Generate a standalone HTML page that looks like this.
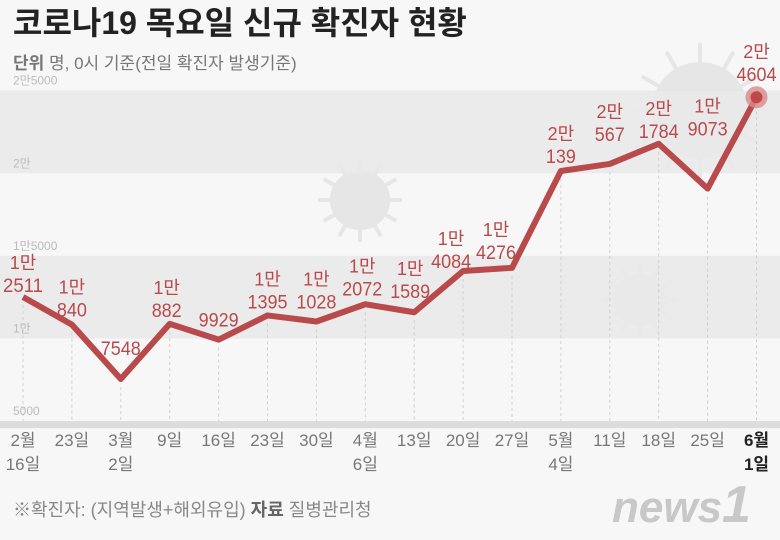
<!DOCTYPE html>
<html><head><meta charset="utf-8"><style>
body{margin:0;background:#f7f7f7;}
svg{display:block;font-family:"Liberation Sans","Noto Sans CJK KR",sans-serif;}
</style></head><body>
<svg id="c" width="780" height="540">
<rect width="780" height="540" fill="#f7f7f7"/>
<g id="deco"></g>
<g id="bands"></g><g id="grid"></g><g id="ylab"></g>
<path id="line" fill="none" stroke="#b94a4c" stroke-width="6" stroke-linejoin="round"/>
<g id="marks"></g><g id="xlab"></g>
<text x="13" y="34" font-size="32" font-weight="bold" fill="#222">코로나19 목요일 신규 확진자 현황</text>
<text x="13" y="69" font-size="17" fill="#777"><tspan font-weight="bold">단위</tspan>  명, 0시 기준(전일 확진자 발생기준)</text>
<text x="13" y="516" font-size="18" fill="#888">※확진자: (지역발생+해외유입)  <tspan font-weight="bold" fill="#666">자료</tspan>  질병관리청</text>
<text x="612" y="522" font-size="44" font-weight="bold" font-style="italic" fill="#c8c8c8">news<tspan font-size="52">1</tspan></text>
</svg>
<script>
const categories=["2월|16일","23일","3월|2일","9일","16일","23일","30일","4월|6일","13일","20일","27일","5월|4일","11일","18일","25일","6월|1일"];
const values=[12511,10840,7548,10882,9929,11395,11028,12072,11589,14084,14276,20139,20567,21784,19073,24604];
const yTicks=[5000,10000,15000,20000,25000];
const yTickLabels=["5000","1만","1만5000","2만","2만5000"];
const labelOffsets=[12,15,31,14,20,14,20,16,21,10,16,15,30,13,60,23];
const labelShifts=[0,0,0,-3,0,0,0,-3,-4,-12,-16,0,0,0,0,0];
const NS="http://www.w3.org/2000/svg";
function X(i){return 23+i*48.9;}
function Y(v){return 297-(v-12511)*0.01652;}
function mk(tag,attrs,parent){const e=document.createElementNS(NS,tag);for(const k in attrs)e.setAttribute(k,attrs[k]);document.getElementById(parent).appendChild(e);return e;}
[[700,110,48],[360,200,30],[640,300,26]].forEach(function(c){
  for(let a=0;a<12;a++){const t=a*Math.PI/6;const l=mk('line',{x1:c[0],y1:c[1],x2:c[0]+Math.cos(t)*c[2]*1.4,y2:c[1]+Math.sin(t)*c[2]*1.4,stroke:'#e6e6e6','stroke-width':4},'deco');
  
  }
  const ci=mk('circle',{cx:c[0],cy:c[1],r:c[2],fill:'#e6e6e6'},'deco');
  
  
});
[[20000,25000],[10000,15000]].forEach(function(b){
  const r=mk('rect',{x:0,y:Y(b[1]),width:780,height:Y(b[0])-Y(b[1]),fill:'#e9e9e9',opacity:0.85},'bands');
  
  
});
const ax=mk('rect',{x:0,y:Y(5000),width:780,height:7,fill:'#dcdcdc'},'bands');


yTicks.forEach(function(v,i){
  const t=mk('text',{x:13,y:Y(v)-6,'font-size':12,fill:'#bbb'},'ylab');t.textContent=yTickLabels[i];
  
  
});
let d="";
values.forEach(function(v,i){
  const x=X(i),y=Y(v);d+=(i?"L":"M")+x+" "+y;
  const g=mk('line',{x1:x,y1:y+8,x2:x,y2:Y(5000),stroke:'#d0d0d0','stroke-dasharray':'3 3'},'grid');
  
  
  const last=i===values.length-1;
  const parts=categories[i].split("|");
  parts.forEach(function(p,k){
    const t=mk('text',{x:x,y:446+k*24,'text-anchor':'middle','font-size':17,fill:last?'#222':'#777','font-weight':last?'bold':'normal'},'xlab');t.textContent=p;
    
    
  });
  const man=Math.floor(v/10000),rest=v%10000;
  const cy=y-labelOffsets[i];
  const lx=x+labelShifts[i];
  const s=String(rest);
  const t2=mk('text',{x:lx,y:cy+7,'text-anchor':'middle','font-size':19,fill:'#b94a4c',textLength:s.length*10,lengthAdjust:'spacingAndGlyphs'},'marks');t2.textContent=s;
  
  
  if(man>0){const t1=mk('text',{x:lx,y:cy-16,'text-anchor':'middle','font-size':18,fill:'#b94a4c'},'marks');t1.textContent=man+"만";
  
  }
  if(last){
    const c1=mk('circle',{cx:x,cy:y,r:11,fill:'#d98a8c',opacity:0.8},'marks');
    
    
    const c2=mk('circle',{cx:x,cy:y,r:6,fill:'#c0484b'},'marks');
    
    
  }
});
document.getElementById('line').setAttribute('d',d);
</script>
</body></html>
